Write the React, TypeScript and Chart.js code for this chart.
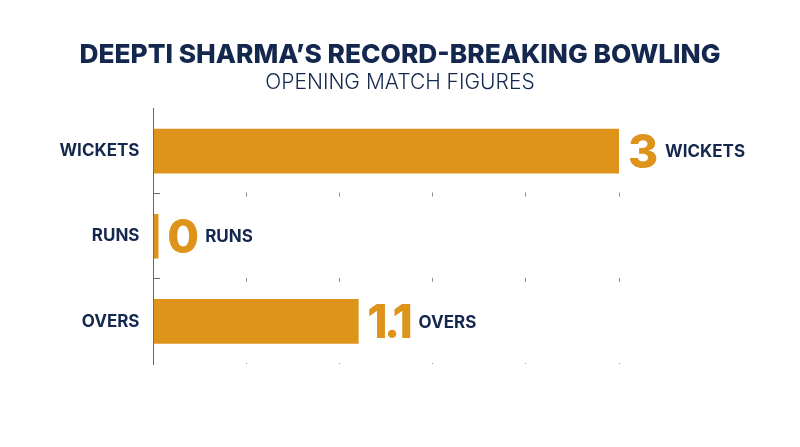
import React, { useEffect, useRef } from 'react';
import { Chart, registerables } from 'chart.js';

Chart.register(...registerables);

const categories = ['WICKETS', 'RUNS', 'OVERS'];
const barValues = [3, 0.03, 1.32];
const valueLabels = ['3', '0', '1.1'];
const unitLabels = ['WICKETS', 'RUNS', 'OVERS'];

const NAVY = '#14274e';
const GOLD = '#de931b';
const AXIS = '#5f6675';
const TICK = '#8a8f99';
const FONT = 'Inter, "Open Sans", sans-serif';

// big number + unit to the right of each bar
const endLabels = {
  id: 'endLabels',
  afterDatasetsDraw(chart: any) {
    const { ctx } = chart;
    chart.getDatasetMeta(0).data.forEach((bar: any, i: number) => {
      ctx.save();
      ctx.textBaseline = 'middle';
      ctx.textAlign = 'left';
      ctx.font = `800 46px ${FONT}`;
      ctx.fillStyle = GOLD;
      ctx.letterSpacing = valueLabels[i].length > 1 ? '-3.5px' : '0px';
      const x = bar.x + 9;
      ctx.fillText(valueLabels[i], x, bar.y + 3);
      const right = ctx.measureText(valueLabels[i]).actualBoundingBoxRight;
      ctx.letterSpacing = '0px';
      ctx.font = `700 17px ${FONT}`;
      ctx.fillStyle = NAVY;
      ctx.fillText(unitLabels[i], x + right + 8, bar.y + 1);
      ctx.restore();
    });
  },
};

const App: React.FC = () => {
  const chartRef = useRef<HTMLCanvasElement>(null);

  useEffect(() => {
    if (chartRef.current) {
      const chartInstance = new Chart(chartRef.current, {
        type: 'bar',
        data: {
          labels: categories,
          datasets: [
            {
              data: barValues,
              backgroundColor: GOLD,
              barThickness: 44,
            },
          ],
        },
        options: {
          indexAxis: 'y',
          responsive: false,
          animation: false,
          layout: { padding: { bottom: 83 } },
          plugins: {
            legend: { display: false },
            tooltip: { enabled: false },
            title: {
              display: true,
              text: 'DEEPTI SHARMA’S RECORD-BREAKING BOWLING',
              color: NAVY,
              font: { family: FONT, size: 26.3, weight: 800, lineHeight: 1 },
              padding: { top: 42, bottom: 4 },
            },
            subtitle: {
              display: true,
              text: 'OPENING MATCH FIGURES',
              color: NAVY,
              font: { family: FONT, size: 21, weight: 300, lineHeight: 1 },
              padding: { bottom: 15.2 },
            },
          },
          scales: {
            x: {
              min: 0,
              max: 3,
              ticks: { display: false, stepSize: 0.6 },
              grid: { color: TICK, lineWidth: 1, drawTicks: false },
              border: { display: false, dash: [0, 84, 4, 81.3, 4, 81.3, 4, 1000] },
            },
            y: {
              afterFit: (scale: any) => {
                scale.width = 153.5;
              },
              ticks: {
                color: NAVY,
                padding: 14,
                font: { family: FONT, size: 17, weight: 700 },
              },
              grid: {
                offset: true,
                drawTicks: false,
                lineWidth: 1,
                color: (ctx: any) =>
                  !ctx.index || ctx.index >= categories.length ? 'transparent' : AXIS,
              },
              border: { display: true, color: AXIS, width: 1, dash: [6, 1000] },
            },
            // empty axis that keeps the room on the right for the end labels
            spacer: {
              type: 'linear',
              position: 'right',
              afterFit: (scale: any) => {
                scale.width = 181;
              },
              ticks: { display: false },
              grid: { display: false },
              border: { display: false },
            },
          },
        },
        plugins: [endLabels],
      });

      return () => {
        chartInstance.destroy();
      };
    }
  }, []);

  return (
    <div style={{ position: 'fixed', left: 0, top: 0, width: 800, height: 447, background: '#fff' }}>
      <canvas ref={chartRef} width={800} height={447} />
    </div>
  );
};

export default App;
